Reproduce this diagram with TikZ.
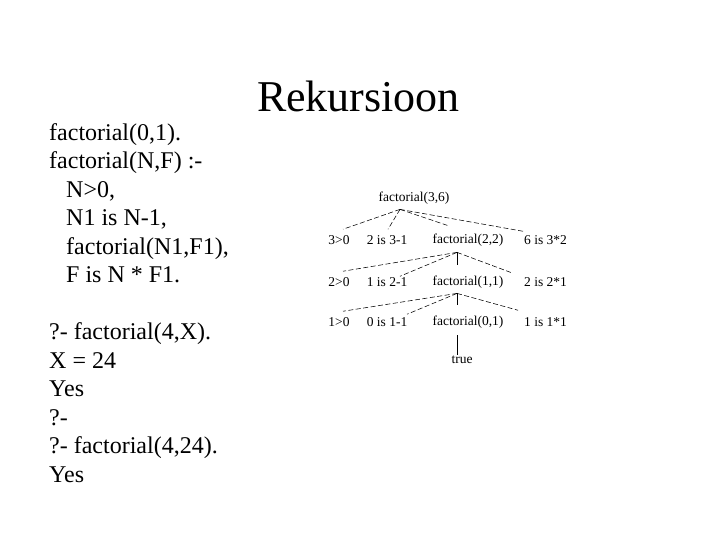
\documentclass[tikz,border=0pt]{standalone}
\usepackage{fontspec}
\setmainfont{Liberation Serif}
\usepackage{tikz}
\usetikzlibrary{positioning}
\tikzset{
  goal/.style={font=\fontsize{13.5}{16}\selectfont,inner sep=1pt},
  clause/.style={font=\fontsize{24}{28.5}\selectfont,align=left,inner sep=0pt,anchor=north west},
  branch/.style={draw=black,line width=0.55pt,dash pattern=on 5pt off 2.5pt},
  stem/.style={draw=black,line width=0.6pt}
}

\begin{document}
\begin{tikzpicture}[x=1pt,y=-1pt]
  \useasboundingbox (0,0) rectangle (720,540);

  \node[font=\fontsize{44}{50}\selectfont,inner sep=0pt,anchor=base] (title) at (358.5,112) {Rekursioon};

  \node[clause] (program) at (49,123) {factorial(0,1).\\
    factorial(N,F) :-\\
    \hspace*{17pt}N>0,\\
    \hspace*{17pt}N1 is N-1,\\
    \hspace*{17pt}factorial(N1,F1),\\
    \hspace*{17pt}F is N * F1.\\[28.5pt]
    ?- factorial(4,X).\\
    X = 24\\
    Yes\\
    ?-\\
    ?- factorial(4,24).\\
    Yes};

  % proof tree
  \node[goal] (f3) at (414,198) {factorial(3,6)};

  \node[goal] (gt3) at (339,240) {3>0};
  \node[goal] (n2) at (387,240) {2 is 3-1};
  \node[goal] (f2) at (468,240) {factorial(2,2)};
  \node[goal,anchor=west] (m6) at (523,240) {6 is 3*2};

  \node[goal] (gt2) at (339,282) {2>0};
  \node[goal] (n1) at (387,282) {1 is 2-1};
  \node[goal] (f1) at (468,282) {factorial(1,1)};
  \node[goal,anchor=west] (m2) at (523,282) {2 is 2*1};

  \node[goal] (gt1) at (339,322) {1>0};
  \node[goal] (n0) at (387,322) {0 is 1-1};
  \node[goal] (f0) at (468,322) {factorial(0,1)};
  \node[goal,anchor=west] (m1) at (523,322) {1 is 1*1};

  \node[goal] (true) at (462,360) {true};

  \draw[branch] ([xshift=-14pt,yshift=-4pt]f3.south) -- ([xshift=4pt,yshift=5pt]gt3.north);
  \draw[branch] ([xshift=-14pt,yshift=-4pt]f3.south) -- ([xshift=1pt,yshift=5pt]n2.north);
  \draw[branch] ([xshift=-14pt,yshift=-4pt]f3.south) -- ([xshift=-20pt,yshift=7pt]f2.north);
  \draw[branch] ([xshift=-14pt,yshift=-4pt]f3.south) -- ([yshift=3pt]m6.north west);

  \draw[branch] ([xshift=-11pt,yshift=-5pt]f2.south) -- ([xshift=4pt,yshift=5pt]gt2.north);
  \draw[branch] ([xshift=-11pt,yshift=-5pt]f2.south) -- ([xshift=13pt,yshift=0pt]n1.north);
  \draw[stem] ([xshift=-11pt,yshift=-5pt]f2.south) -- ([xshift=-11pt,yshift=10pt]f1.north);
  \draw[branch] ([xshift=-11pt,yshift=-5pt]f2.south) -- ([xshift=-10pt,yshift=3pt]m2.north west);

  \draw[branch] ([xshift=-11pt,yshift=-4pt]f1.south) -- ([xshift=4pt,yshift=5pt]gt1.north);
  \draw[branch] ([xshift=-11pt,yshift=-4pt]f1.south) -- ([xshift=20pt,yshift=2pt]n0.north);
  \draw[stem] ([xshift=-11pt,yshift=-4pt]f1.south) -- ([xshift=-11pt,yshift=10pt]f0.north);
  \draw[branch] ([xshift=-11pt,yshift=-4pt]f1.south) -- ([xshift=-5pt,yshift=6pt]m1.north west);

  \draw[stem] ([xshift=-11pt,yshift=-6pt]f0.south) -- ([xshift=-5pt]true.north);
\end{tikzpicture}
\end{document}
